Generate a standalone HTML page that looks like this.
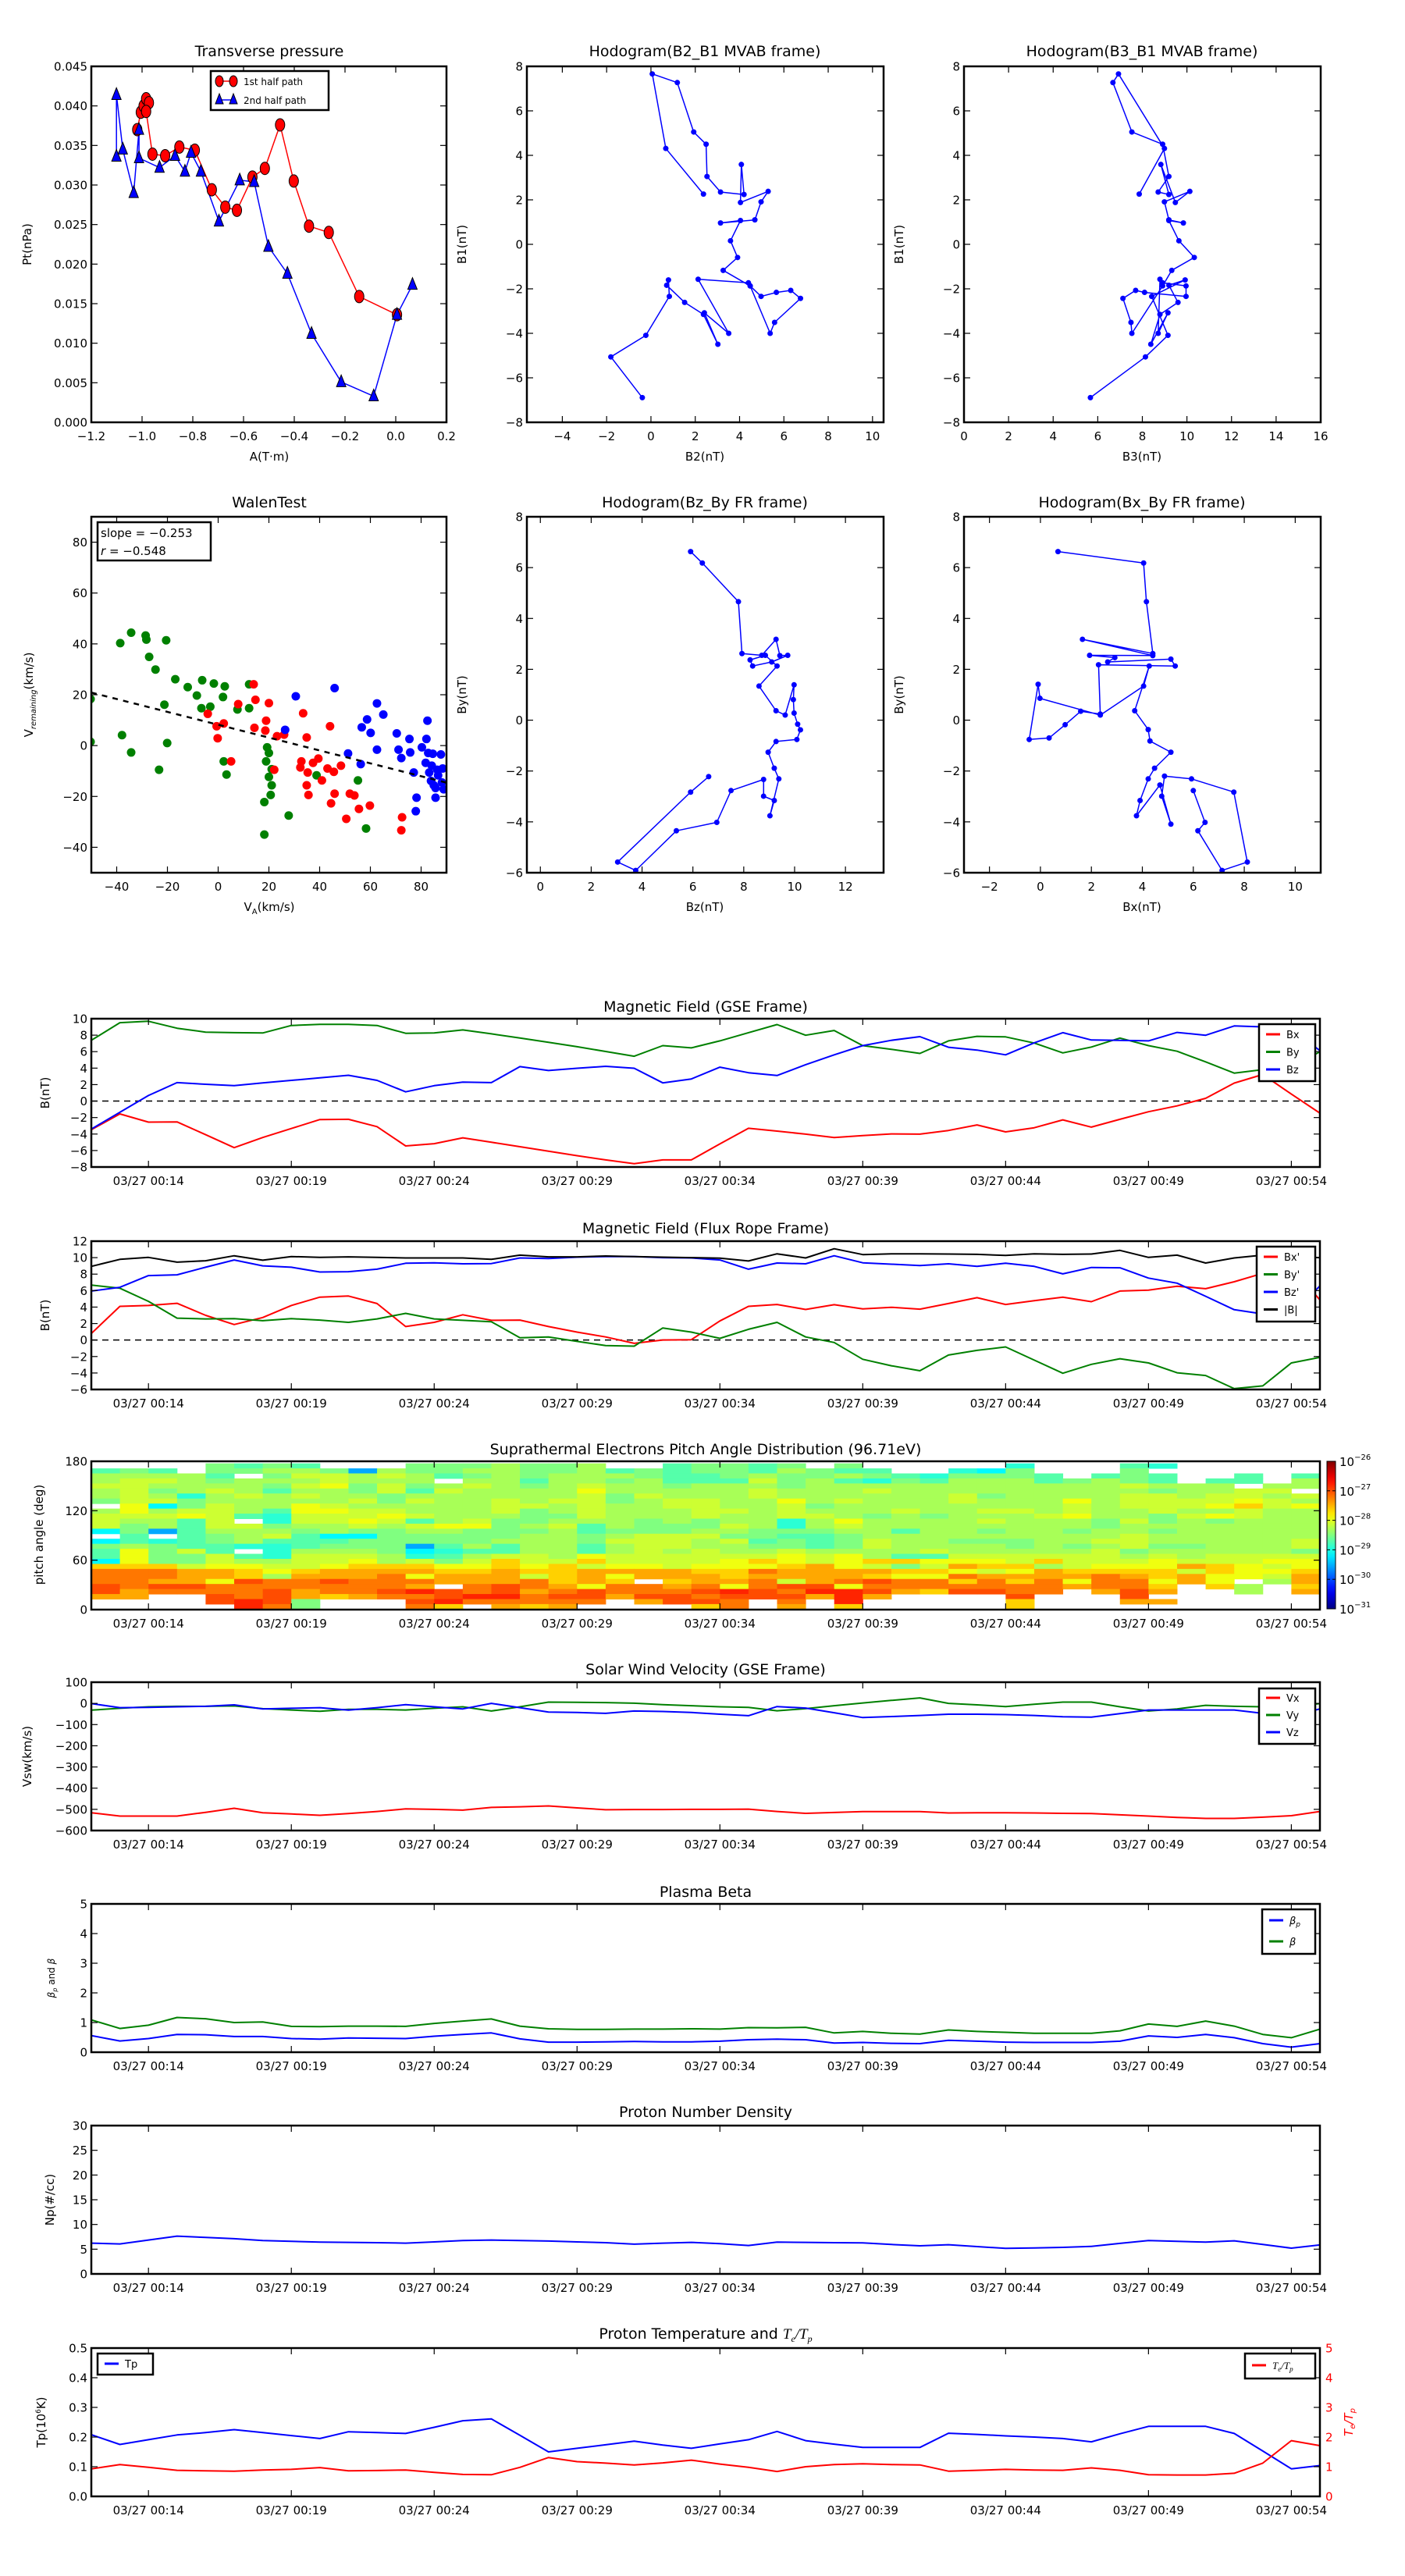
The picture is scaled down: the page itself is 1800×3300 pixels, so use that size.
<!DOCTYPE html>
<html><head><meta charset="utf-8"><style>
html,body{margin:0;padding:0;background:#fff;}
svg{display:block;font-family:"DejaVu Sans","Liberation Sans",sans-serif;}
</style></head><body>
<svg id="fig" xmlns="http://www.w3.org/2000/svg" width="1800" height="3300" viewBox="0 0 1800 3300"></svg>
<script>
// ---------- data: transverse pressure ----------
const tpA1=[-1.019,-1.005,-0.994,-0.984,-0.973,-0.984,-0.959,-0.909,-0.853,-0.792,-0.725,-0.672,-0.626,-0.565,-0.516,-0.456,-0.402,-0.342,-0.264,-0.144,0.005];
const tpP1=[0.0370,0.0392,0.0400,0.0409,0.0404,0.0393,0.0339,0.0337,0.0348,0.0344,0.0294,0.0272,0.0268,0.0310,0.0321,0.0376,0.0305,0.0248,0.0240,0.0159,0.0136];
const tpA2=[-1.101,-1.101,-1.076,-1.033,-1.012,-1.012,-0.931,-0.870,-0.831,-0.807,-0.768,-0.697,-0.615,-0.558,-0.502,-0.427,-0.332,-0.215,-0.087,0.005,0.066];
const tpP2=[0.0336,0.0414,0.0345,0.0290,0.0370,0.0334,0.0322,0.0337,0.0317,0.0341,0.0317,0.0254,0.0306,0.0304,0.0222,0.0188,0.0112,0.0051,0.0033,0.0136,0.0174];
// ---------- hodograms MVAB ----------
const hB2=[-0.39,-1.81,-0.23,0.83,0.79,0.71,1.52,2.37,3.02,2.41,3.51,2.13,4.40,4.48,4.97,5.66,6.31,6.75,5.58,5.38,4.48,3.26,3.91,3.59,4.04,3.14,4.69,4.97,5.29,4.04,4.08,4.20,3.14,2.53,2.49,1.93,1.19,0.06,0.67,2.37];
const hB1=[-6.89,-5.06,-4.09,-2.34,-1.60,-1.84,-2.61,-3.15,-4.49,-3.08,-4.0,-1.57,-1.73,-1.87,-2.34,-2.16,-2.07,-2.43,-3.51,-4.0,-1.87,-1.17,-0.59,0.16,1.07,0.96,1.1,1.91,2.38,1.88,3.59,2.24,2.35,3.05,4.50,5.05,7.27,7.66,4.31,2.26];
const hB3=[5.67,8.14,9.15,8.42,9.92,9.19,9.6,8.79,8.38,9.15,8.71,8.79,8.91,9.96,9.96,8.1,7.7,7.13,7.49,7.53,8.91,9.32,10.33,9.64,9.19,9.84,9.19,8.99,10.13,9.48,8.83,9.19,8.71,9.19,8.91,7.53,6.68,6.93,8.99,7.86];
// ---------- hodograms FR ----------
const fBz=[5.91,6.37,7.79,7.93,8.71,9.27,9.42,9.73,9.10,8.35,8.25,8.85,9.31,8.60,9.27,9.63,9.98,9.95,9.98,10.12,10.23,10.09,9.27,8.96,9.20,9.38,9.03,9.20,8.78,8.78,7.50,6.94,5.35,3.75,3.04,5.91,6.62];
const fByZ=[6.63,6.18,4.66,2.62,2.55,3.18,2.54,2.55,2.29,2.13,2.37,2.55,2.13,1.34,0.37,0.20,1.39,0.81,0.28,-0.16,-0.38,-0.76,-0.84,-1.26,-1.89,-2.31,-3.76,-3.16,-2.99,-2.33,-2.77,-4.02,-4.35,-5.91,-5.58,-2.83,-2.22];
const fBx=[0.69,4.05,4.16,4.41,1.65,4.41,1.93,2.92,2.64,5.12,5.29,2.28,2.35,1.58,0.97,0.34,-0.44,-0.09,-0.02,2.35,4.05,4.27,3.70,4.23,4.30,5.12,4.48,4.23,3.91,3.77,4.69,5.12,4.76,4.87,5.93,7.59,8.12,7.13,6.18,6.46,6.0];
const fByX=[6.63,6.18,4.66,2.62,3.18,2.54,2.55,2.46,2.29,2.40,2.13,2.18,0.24,0.35,-0.18,-0.70,-0.76,1.41,0.86,0.20,1.34,2.13,0.37,-0.37,-0.82,-1.26,-1.89,-2.31,-3.16,-3.76,-2.55,-4.09,-2.99,-2.2,-2.31,-2.83,-5.58,-5.91,-4.35,-4.02,-2.77];
// ---------- Walen test ----------
const wGx=[-50.3,-38.6,-34.3,-28.6,-28.3,-20.5,-27.2,-24.7,-16.9,-12.0,-8.4,-6.3,-1.7,2.6,1.9,12.2,-6.6,-3.1,7.6,12.2,-21.2,-37.9,-34.3,-20.1,-23.3,2.2,3.3,19.3,18.9,20.0,21.1,20.0,21.1,20.7,18.2,27.8,18.2,38.8,55.1,58.3,-50.3];
const wGy=[18.3,40.3,44.4,43.3,41.7,41.4,34.9,29.9,26.1,23.0,19.7,25.7,24.4,23.3,19.1,24.1,14.7,15.3,14.2,14.7,16.1,4.1,-2.7,1.0,-9.5,-6.2,-11.4,-0.7,-6.2,-2.9,-9.3,-12.3,-15.6,-19.4,-22.2,-27.5,-35.0,-11.7,-13.7,-32.6,1.5];
const wRx=[-4.1,-0.6,-0.2,2.2,5.1,7.9,14.0,14.7,14.3,18.6,18.9,20.0,23.2,22.1,26.0,33.5,34.9,32.4,32.8,35.3,34.9,35.6,37.4,39.5,40.9,44.1,43.1,45.6,45.9,44.5,48.4,51.9,53.7,55.5,59.8,50.5,72.5,72.2];
const wRy=[12.5,7.6,2.9,8.7,-6.2,16.3,24.1,18.0,7.0,5.9,9.8,16.7,3.7,-9.5,4.3,12.7,3.2,-8.6,-6.2,-10.6,-15.6,-19.4,-6.8,-5.1,-13.7,7.6,-9.0,-10.3,-18.9,-22.7,-7.9,-18.9,-19.6,-24.9,-23.6,-28.8,-28.2,-33.3];
const wBx=[45.9,30.6,26.4,51.2,56.2,56.6,58.7,60.1,62.6,65.1,62.6,70.4,71.1,72.2,75.4,75.7,77.1,78.2,77.9,80.3,82.1,82.5,82.8,81.8,83.2,84.6,85.7,83.9,85.0,86.4,87.8,88.5,88.2,88.9,84.2,85.7,86.7];
const wBy=[22.6,19.4,6.2,-3.1,-7.3,7.2,10.3,5.0,16.6,12.2,-1.6,4.8,-1.6,-4.9,2.6,-2.7,-10.6,-20.5,-25.8,-0.7,2.6,9.8,-2.9,-6.8,-10.6,-3.2,-20.5,-13.9,-15.6,-9.5,-3.5,-9.0,-14.5,-17.2,-7.9,-16.7,-11.7];
const walenSlope=-0.253, walenIntercept=8.2, walenR=-0.548;
// ---------- time series (one sample per minute, 00:12 .. 00:55) ----------
const tStart=12;
const timeTicks=[14,19,24,29,34,39,44,49,54];
const gseBx=[-3.47,-1.56,-2.55,-2.52,-4.08,-5.65,-4.42,-3.33,-2.24,-2.21,-3.10,-5.44,-5.17,-4.46,-5.0,-5.54,-6.09,-6.63,-7.14,-7.59,-7.14,-7.14,-5.2,-3.3,-3.64,-4.01,-4.42,-4.18,-3.98,-4.01,-3.57,-2.89,-3.74,-3.23,-2.28,-3.16,-2.21,-1.29,-0.58,0.34,2.18,3.23,0.85,-1.46];
const gseBy=[7.38,9.52,9.69,8.84,8.37,8.3,8.27,9.18,9.32,9.32,9.18,8.23,8.27,8.64,8.16,7.65,7.14,6.6,6.02,5.44,6.73,6.46,7.31,8.3,9.29,7.99,8.57,6.73,6.29,5.78,7.31,7.86,7.79,7.04,5.85,6.56,7.65,6.73,6.05,4.76,3.4,3.81,4.0,6.0];
const gseBz=[-3.4,-1.36,0.68,2.24,2.04,1.87,2.21,2.52,2.82,3.13,2.52,1.12,1.87,2.31,2.24,4.18,3.71,3.98,4.22,3.98,2.21,2.69,4.12,3.44,3.1,4.42,5.61,6.73,7.38,7.82,6.53,6.19,5.61,7.07,8.3,7.41,7.38,7.31,8.33,7.99,9.12,9.01,8.84,6.12];
const frBx=[0.79,4.09,4.19,4.46,3.0,1.88,2.73,4.19,5.21,5.34,4.43,1.64,2.15,3.07,2.39,2.42,1.64,0.96,0.38,-0.4,0.01,0.04,2.32,4.09,4.32,3.71,4.29,3.78,3.98,3.75,4.43,5.14,4.32,4.77,5.21,4.66,5.95,6.06,6.53,6.23,7.07,8.1,8.9,4.87];
const frBy=[6.67,6.29,4.7,2.66,2.56,2.59,2.35,2.59,2.42,2.15,2.56,3.24,2.56,2.39,2.22,0.28,0.38,-0.16,-0.67,-0.74,1.47,0.96,0.21,1.3,2.15,0.38,-0.3,-2.33,-3.12,-3.73,-1.82,-1.25,-0.84,-2.44,-4.03,-2.95,-2.27,-2.78,-3.97,-4.3,-5.9,-5.56,-2.78,-2.1];
const frBz=[5.95,6.4,7.82,7.92,8.84,9.72,9.01,8.84,8.26,8.3,8.6,9.32,9.38,9.25,9.28,9.96,9.89,10.06,10.13,10.13,10.0,9.96,9.72,8.6,9.35,9.25,10.23,9.38,9.21,9.04,9.25,8.94,9.32,8.94,8.03,8.81,8.77,7.52,6.9,5.31,3.68,3.17,3.0,6.57];
const frBt=[8.94,9.79,10.03,9.45,9.62,10.23,9.69,10.13,10.03,10.1,10.03,9.96,9.96,9.96,9.79,10.3,10.1,10.1,10.2,10.13,10.06,10.0,9.93,9.59,10.47,9.96,11.08,10.37,10.47,10.47,10.44,10.4,10.27,10.47,10.4,10.44,10.88,10.03,10.3,9.35,9.96,10.3,10.13,10.0];
const vx=[-516,-532,-532,-532,-514,-495,-516,-522,-528,-520,-510,-498,-500,-504,-491,-488,-484,-493,-502,-501,-501,-500,-500,-499,-510,-519,-515,-511,-511,-511,-517,-516,-516,-517,-519,-520,-526,-532,-538,-543,-543,-537,-530,-510];
const vy=[-32,-23,-16,-14,-14,-12,-25,-31,-37,-28,-28,-31,-23,-16,-36,-16,6,5,4,1,-6,-11,-16,-19,-35,-25,-11,2,14,26,0,-7,-15,-4,6,6,-16,-36,-26,-9,-14,-16,-16,-1];
const vz=[-1,-20,-19,-16,-14,-7,-26,-23,-20,-32,-20,-6,-16,-26,0,-20,-41,-43,-47,-36,-38,-43,-51,-58,-15,-22,-44,-67,-62,-57,-51,-51,-53,-57,-63,-65,-48,-31,-31,-31,-31,-47,-59,-26];
const betaP=[0.56,0.38,0.46,0.60,0.59,0.53,0.53,0.46,0.44,0.48,0.47,0.46,0.54,0.60,0.65,0.45,0.34,0.34,0.35,0.36,0.35,0.35,0.37,0.42,0.44,0.42,0.31,0.33,0.30,0.29,0.40,0.37,0.34,0.33,0.33,0.33,0.37,0.55,0.50,0.60,0.49,0.29,0.17,0.29];
const betaT=[1.09,0.80,0.91,1.17,1.13,1.00,1.02,0.87,0.86,0.88,0.88,0.87,0.97,1.05,1.12,0.88,0.79,0.77,0.77,0.78,0.78,0.79,0.78,0.83,0.82,0.84,0.65,0.70,0.64,0.61,0.75,0.70,0.67,0.64,0.64,0.64,0.72,0.95,0.87,1.05,0.88,0.60,0.49,0.78];
const np=[6.22,6.06,6.85,7.65,7.38,7.12,6.75,6.59,6.43,6.38,6.32,6.22,6.48,6.75,6.85,6.75,6.64,6.48,6.32,6.01,6.22,6.38,6.11,5.74,6.43,6.38,6.32,6.27,5.95,5.69,5.90,5.53,5.16,5.26,5.37,5.58,6.17,6.75,6.59,6.43,6.69,5.95,5.21,5.85];
const tp=[0.208,0.175,0.191,0.207,0.215,0.225,0.215,0.205,0.195,0.218,0.215,0.212,0.233,0.255,0.261,0.206,0.150,0.162,0.174,0.186,0.173,0.162,0.177,0.191,0.219,0.188,0.176,0.165,0.165,0.165,0.213,0.209,0.204,0.200,0.195,0.184,0.211,0.236,0.236,0.236,0.212,0.153,0.093,0.104];
const teTp=[0.93,1.07,0.98,0.88,0.86,0.85,0.89,0.91,0.97,0.86,0.87,0.89,0.81,0.74,0.73,0.98,1.31,1.17,1.12,1.06,1.13,1.22,1.09,0.98,0.84,1.00,1.07,1.10,1.07,1.06,0.85,0.88,0.91,0.89,0.88,0.96,0.88,0.73,0.72,0.72,0.78,1.12,1.88,1.71];
// ---------- PAD: rows from 180deg down, 43 one-minute columns; codes -> log10 flux ----------
const padCodes={b:-29.55,c:-29.15,C:-28.92,g:-28.71,G:-28.5,l:-28.3,L:-28.12,y:-27.95,Y:-27.65,o:-27.45,O:-27.21,r:-27.0,R:-26.8};
const padTopDeg=177.5, padBinDeg=6.1;
const padRows=[
"....GgGg...GGGlGGl..gGGgG.G.....C...gC.....",
"gGg.GGllGblGGllGGlgGgGGglGgg..CcG...G......",
"llllg.GLLlLlgGlGlllGggGlGGlGgCGGGg.gGg..g.g",
"lLLlGlllLlll.llgllGlgggLGlgCGglllgGlGg.gg.l",
"LLllllGLyGLGlLlGlLllGlllGlllllllllllLlll.ll",
"lLGlLlgllGLgLllllylllllLlllLlllllllllGllLL",
"lLlClLlLllGllllllLGLlllLllllllLGllllLLlLLlL",
"GLLGlllllLGLllLlLLGlLLllylLlllLlllylLLLLyLl",
".ycGLllyLlllllLLlLllLLllLGllllllllLlLLLyYLy",
"lylLLlgyyLLlllLGlLlllLLlLlllLllLLlLllLllLll",
"LLLyLgCLLLyLlllGGLlllLllLLlGlGlllLyllGLyLll",
"LllgL.CLLyLglLGGlllGlGllClyllllLlllGLGlGlll",
"LGlgLLGllLlLyyGlLglGGGLlClLllllllllGlllllll",
"cGbglllGlGGllGGGlgGGGllGGGllgllGllGllGlllll",
".g.gGlLgccGGGGGllGlLLLGGggGlllllllllLllllll",
"cgCgGlgggGGGGGlllGLLLlLgGgGLllGGGllLLlllllL",
"GlGggCCgGGGbglgllglLLllGGgGLllllGlGlLGGlllL",
"gyGLg.ClllGcCggllglLlLllLllllLlllllLGlllllG",
"gyGGLgCLLLlCglLLlyLLLLLLyLylggLLLLLLlLlLLLL",
"cyGGLllLLylLGLYLLYLLLLyYyLyYYyyyLYLLLyLLLyy",
"YYYLyyLLyYYYyyYyYLyyLyyyYoyLGLoYYlLyyyoYyLy",
"OOOooYyYooooYYoYYooooYYOooooYYyLyoYYYYLYyyY",
"OOOooYloooOyoooLYoyoooYooooYyyOooooOoYoyyLo",
"OOooyrOOrOOOoooOYoY.YooOLoOrOOYOYOyOOyoy.lo",
"rOrrOOOOOOOo.OrOoyOOoOyOrryOOOOOOOoOOY.Yl.Y",
"roOOOOroOOrRrOroOrOOOrRrORRroYrrOO.oro..l.o",
"oo..rOroYoOOrRROrrorrOrrroRo....r...r......",
"....rRrG...rROOOOO.orrO.O.R.....Y...oo.....",
".....ROG...OY.oYo....YO.o.Y.....Y.........."];
const cbarExps=[-31,-30,-29,-28,-27,-26];

// ---------- helpers ----------
const NS='http://www.w3.org/2000/svg';
const svg=document.getElementById('fig');
function mk(tag,attrs,parent){const e=document.createElementNS(NS,tag);for(const k in attrs)e.setAttribute(k,attrs[k]);(parent||svg).appendChild(e);return e;}
function fmt(v,d){const s=v.toFixed(d);return s.replace('-','\u2212');}
function jet(x){const f=v=>Math.round(255*Math.max(0,Math.min(1,1.5-Math.abs(4*x-v))));return 'rgb('+f(3)+','+f(2)+','+f(1)+')';}
let clipN=0;
function axes(name,x,y,w,h,xd,yd){
  const g=mk('g',{});
  
  
  const id='clip'+(clipN++);
  const cp=mk('clipPath',{id:id},g);mk('rect',{x:x,y:y,width:w,height:h},cp);
  const plot=mk('g',{'clip-path':'url(#'+id+')'},g);
  const sx=v=>x+(v-xd[0])/(xd[1]-xd[0])*w;
  const sy=v=>y+h-(v-yd[0])/(yd[1]-yd[0])*h;
  return {g,plot,sx,sy,x,y,w,h};
}
function frame(a){const r=mk('rect',{x:a.x,y:a.y,width:a.w,height:a.h,fill:'none',stroke:'#000','stroke-width':2.5},a.g);
  
  }
function xticks(a,vals,labels,name){
  vals.forEach((v,i)=>{const X=a.sx(v);
    mk('line',{x1:X,x2:X,y1:a.y+a.h,y2:a.y+a.h-8,stroke:'#000','stroke-width':1.2},a.g);
    mk('line',{x1:X,x2:X,y1:a.y,y2:a.y+8,stroke:'#000','stroke-width':1.2},a.g);
    const t=mk('text',{x:X,y:a.y+a.h+23,'text-anchor':'middle','font-size':15},a.g);
    
    
    t.textContent=labels[i];});
}
function yticks(a,vals,labels,name,opt){
  opt=opt||{};
  vals.forEach((v,i)=>{const Y=a.sy(v);
    mk('line',{x1:a.x,x2:a.x+8,y1:Y,y2:Y,stroke:'#000','stroke-width':1.2},a.g);
    if(!opt.noRightTick)mk('line',{x1:a.x+a.w,x2:a.x+a.w-8,y1:Y,y2:Y,stroke:'#000','stroke-width':1.2},a.g);
    const t=mk('text',{x:a.x-5,y:Y+5.5,'text-anchor':'end','font-size':15},a.g);
    
    
    t.textContent=labels[i];});
}
function range(a,b,s){const r=[];for(let v=a;v<=b+1e-9;v+=s)r.push(+v.toFixed(6));return r;}
function title(txt,x,y,name){const t=mk('text',{x:x,y:y,'text-anchor':'middle','font-size':19});
  
  
  t.textContent=txt;return t;}
function xlabel(txt,x,y,name){const t=mk('text',{x:x,y:y,'text-anchor':'middle','font-size':15});
  
  
  t.textContent=txt;return t;}
function ylabel(txt,x,y,name,col){const t=mk('text',{x:x,y:y,'text-anchor':'middle','font-size':15,fill:col||'#000',transform:'rotate(-90 '+x+' '+y+')'});
  
  
  t.textContent=txt;return t;}
function line(a,xs,ys,col,name,w){
  const d=xs.map((v,i)=>(i?'L':'M')+a.sx(v).toFixed(1)+' '+a.sy(ys[i]).toFixed(1)).join('');
  const p=mk('path',{d:d,fill:'none',stroke:col,'stroke-width':w||2,'stroke-linejoin':'round'},a.plot);
  
  
  return p;}
function dots(a,xs,ys,col,r,name){
  xs.forEach((v,i)=>{const c=mk('circle',{cx:a.sx(v),cy:a.sy(ys[i]),r:r,fill:col},a.plot);
    
    });}
function hline0(a){mk('line',{x1:a.x,x2:a.x+a.w,y1:a.sy(0),y2:a.sy(0),stroke:'#000','stroke-width':1.5,'stroke-dasharray':'8 6'},a.plot);}
function legend(x,y,w,h,entries,name,rowH,first){
  const g=mk('g',{});
  
  
  mk('rect',{x:x,y:y,width:w,height:h,fill:'#fff',stroke:'#000','stroke-width':2.5},g);
  entries.forEach((e,i)=>{const Y=y+first+i*rowH;
    mk('line',{x1:x+9,x2:x+27,y1:Y,y2:Y,stroke:e[1],'stroke-width':3},g);
    const t=mk('text',{x:x+35,y:Y+5,'font-size':13,'font-style':e[2]?'italic':'normal'},g);
    
    
    t.textContent=e[0];});
  return g;}

// ================= Row 1 =================
(function(){
  const a=axes('transverse-pressure-plot',117,85,455,456,[-1.2,0.2],[0,0.045]);
  line(a,tpA1,tpP1,'#f00','first-half-path-line',1.5);
  line(a,tpA2,tpP2,'#00f','second-half-path-line',1.5);
  tpA1.forEach((v,i)=>{const c=mk('ellipse',{cx:a.sx(v),cy:a.sy(tpP1[i]),rx:6,ry:8,fill:'#f00',stroke:'#000','stroke-width':1},a.plot);
    
    });
  tpA2.forEach((v,i)=>{const X=a.sx(v),Y=a.sy(tpP2[i]);const p=mk('polygon',{points:(X)+','+(Y-9)+' '+(X-6)+','+(Y+6)+' '+(X+6)+','+(Y+6),fill:'#00f',stroke:'#000','stroke-width':1},a.plot);
    
    });
  frame(a);
  const xv=range(-1.2,0.2,0.2);xticks(a,xv,xv.map(v=>fmt(v,1)),'x-tick-label');
  const yv=range(0,0.045,0.005);yticks(a,yv,yv.map(v=>fmt(v,3)),'y-tick-label');
  title('Transverse pressure',345,72,'transverse-pressure-title');
  xlabel('A(T\u00b7m)',345,590,'x-axis-title');ylabel('Pt(nPa)',40,313,'y-axis-title');
  const g=mk('g',{});
  
  
  mk('rect',{x:270,y:91,width:151,height:50,fill:'#fff',stroke:'#000','stroke-width':2.5},g);
  mk('line',{x1:278,x2:302,y1:104,y2:104,stroke:'#f00','stroke-width':1.5},g);
  mk('ellipse',{cx:281,cy:104,rx:5,ry:7,fill:'#f00',stroke:'#000'},g);mk('ellipse',{cx:299,cy:104,rx:5,ry:7,fill:'#f00',stroke:'#000'},g);
  mk('line',{x1:278,x2:302,y1:128,y2:128,stroke:'#00f','stroke-width':1.5},g);
  mk('polygon',{points:'281,120 276,133 286,133',fill:'#00f',stroke:'#000'},g);mk('polygon',{points:'299,120 294,133 304,133',fill:'#00f',stroke:'#000'},g);
  const t1=mk('text',{x:312,y:109,'font-size':12},g);t1.textContent='1st half path';
  const t2=mk('text',{x:312,y:133,'font-size':12},g);t2.textContent='2nd half path';
})();
function hodo(name,x,y,xd,yd,xs,ys,xt,yt,tt,xl,yl){
  const a=axes(name,x,y,457,456,xd,yd);
  line(a,xs,ys,'#00f',name+'-path',1.5);dots(a,xs,ys,'#00f',3.5,name+'-point');
  frame(a);
  xticks(a,xt,xt.map(v=>fmt(v,0)),'x-tick-label');yticks(a,yt,yt.map(v=>fmt(v,0)),'y-tick-label');
  title(tt,x+228,y-13,name+'-title');xlabel(xl,x+228,y+505,'x-axis-title');ylabel(yl,x-78,y+228,'y-axis-title');
}
hodo('hodogram-b2-b1',675,85,[-5.6,10.5],[-8,8],hB2,hB1,range(-4,10,2),range(-8,8,2),'Hodogram(B2_B1 MVAB frame)','B2(nT)','B1(nT)');
hodo('hodogram-b3-b1',1235,85,[0,16],[-8,8],hB3,hB1,range(0,16,2),range(-8,8,2),'Hodogram(B3_B1 MVAB frame)','B3(nT)','B1(nT)');
// ================= Row 2 =================
(function(){
  const a=axes('walen-test-plot',117,662,455,456,[-50,90],[-50,90]);
  dots(a,wGx,wGy,'#008000',5.5,'walen-point-green');
  dots(a,wRx,wRy,'#f00',5.5,'walen-point-red');
  dots(a,wBx,wBy,'#00f',5.5,'walen-point-blue');
  const fl=mk('line',{x1:a.sx(-50),y1:a.sy(walenIntercept+walenSlope*-50),x2:a.sx(90),y2:a.sy(walenIntercept+walenSlope*90),stroke:'#000','stroke-width':2.5,'stroke-dasharray':'7 7'},a.plot);
  
  
  frame(a);
  xticks(a,range(-40,80,20),range(-40,80,20).map(v=>fmt(v,0)),'x-tick-label');
  yticks(a,range(-40,80,20),range(-40,80,20).map(v=>fmt(v,0)),'y-tick-label');
  title('WalenTest',345,650,'walen-title');
  const xl=xlabel('',345,1167,'x-axis-title');xl.innerHTML='V<tspan font-size="10" dy="4">A</tspan><tspan dy="-4">(km/s)</tspan>';
  const yl=ylabel('',42,890,'y-axis-title');yl.innerHTML='V<tspan font-size="10" dy="4" font-style="italic">remaining</tspan><tspan dy="-4">(km/s)</tspan>';
  const g=mk('g',{});
  
  
  mk('rect',{x:125,y:669,width:145,height:49,fill:'#fff',stroke:'#000','stroke-width':2.5},g);
  const t1=mk('text',{x:129,y:688,'font-size':15},g);t1.textContent='slope = '+fmt(walenSlope,3);
  const t2=mk('text',{x:129,y:711,'font-size':15},g);t2.innerHTML='<tspan font-style="italic">r</tspan> = '+fmt(walenR,3);
})();
function hodo2(name,x,y,xd,xs,ys,xt,tt,xl){
  const a=axes(name,x,y,457,456,xd,[-6,8]);
  line(a,xs,ys,'#00f',name+'-path',1.5);dots(a,xs,ys,'#00f',3.5,name+'-point');
  frame(a);
  xticks(a,xt,xt.map(v=>fmt(v,0)),'x-tick-label');yticks(a,range(-6,8,2),range(-6,8,2).map(v=>fmt(v,0)),'y-tick-label');
  title(tt,x+228,650,name+'-title');xlabel(xl,x+228,1167,'x-axis-title');ylabel('By(nT)',x-78,y+228,'y-axis-title');
}
hodo2('hodogram-bz-by',675,662,[-0.53,13.5],fBz,fByZ,range(0,12,2),'Hodogram(Bz_By FR frame)','Bz(nT)');
hodo2('hodogram-bx-by',1235,662,[-3,11],fBx,fByX,range(-2,10,2),'Hodogram(Bx_By FR frame)','Bx(nT)');
// ================= Time series =================
const T=gseBx.map((v,i)=>tStart+i);
const tLabels=timeTicks.map(m=>'03/27 00:'+String(m).padStart(2,'0'));
function tsAxes(name,y,yd){return axes(name,117,y,1574,190,[12,55],yd);}
function tsFinish(a,yv,yl,dec){frame(a);xticks(a,timeTicks,tLabels,'time-tick-label');yticks(a,yv,yv.map(v=>fmt(v,dec||0)),'y-tick-label');}
// GSE
(function(){const a=tsAxes('gse-field-plot',1305,[-8,10]);
  hline0(a);line(a,T,gseBx,'#f00','bx-line');line(a,T,gseBy,'#008000','by-line');line(a,T,gseBz,'#00f','bz-line');
  tsFinish(a,range(-8,10,2));title('Magnetic Field (GSE Frame)',904,1296,'gse-title');ylabel('B(nT)',63,1400,'y-axis-title');
  legend(1613,1312,72,73,[['Bx','#f00'],['By','#008000'],['Bz','#00f']],'gse-legend',22.5,13);})();
// FR
(function(){const a=tsAxes('flux-rope-field-plot',1590,[-6,12]);
  hline0(a);line(a,T,frBx,'#f00','bx-prime-line');line(a,T,frBy,'#008000','by-prime-line');line(a,T,frBz,'#00f','bz-prime-line');line(a,T,frBt,'#000','b-total-line');
  tsFinish(a,range(-6,12,2));title('Magnetic Field (Flux Rope Frame)',904,1580,'flux-rope-title');ylabel('B(nT)',63,1685,'y-axis-title');
  legend(1610,1597,75,96,[["Bx'",'#f00'],["By'",'#008000'],["Bz'",'#00f'],['|B|','#000']],'flux-rope-legend',22.5,13);})();
// PAD
(function(){const a=tsAxes('pitch-angle-heatmap',1872,[0,180]);
  padRows.forEach((row,r)=>{for(let c=0;c<row.length;c++){const ch=row[c];if(!(ch in padCodes))continue;
    const v=padCodes[ch];const x0=a.sx(tStart+c),x1=a.sx(tStart+c+1);
    const yA=a.sy(padTopDeg-r*padBinDeg),yB=a.sy(padTopDeg-(r+1)*padBinDeg);
    const rc=mk('rect',{x:x0,y:yA,width:x1-x0+0.5,height:yB-yA+0.5,fill:jet((v+31)/5)},a.plot);
    
    }});
  tsFinish(a,[0,60,120,180]);title('Suprathermal Electrons Pitch Angle Distribution (96.71eV)',904,1863,'pad-title');ylabel('pitch angle (deg)',55,1966,'y-axis-title');
  const defs=mk('defs',{});const gr=mk('linearGradient',{id:'jetg',x1:0,y1:1,x2:0,y2:0},defs);
  for(let i=0;i<=20;i++)mk('stop',{offset:i/20,'stop-color':jet(i/20)},gr);
  const cb=mk('rect',{x:1700,y:1872,width:11,height:189,fill:'url(#jetg)',stroke:'#000','stroke-width':1});
  
  
  cbarExps.forEach(e=>{const Y=1872+189*(-26-e)/5;
    mk('line',{x1:1700,x2:1704,y1:Y,y2:Y,stroke:'#000'});mk('line',{x1:1707,x2:1711,y1:Y,y2:Y,stroke:'#000'});
    const t=mk('text',{x:1716,y:Y+6,'font-size':15});
    
    
    t.innerHTML='10<tspan font-size="10" dy="-8">'+String(e).replace('-','\u2212')+'</tspan>';});})();
// Velocity
(function(){const a=tsAxes('solar-wind-velocity-plot',2155,[-600,100]);
  line(a,T,vx,'#f00','vx-line');line(a,T,vy,'#008000','vy-line');line(a,T,vz,'#00f','vz-line');
  tsFinish(a,range(-600,100,100));title('Solar Wind Velocity (GSE Frame)',904,2145,'velocity-title');ylabel('Vsw(km/s)',40,2250,'y-axis-title');
  legend(1613,2163,72,71,[['Vx','#f00'],['Vy','#008000'],['Vz','#00f']],'velocity-legend',22,12);})();
// Beta
(function(){const a=tsAxes('plasma-beta-plot',2439,[0,5]);
  line(a,T,betaP,'#00f','beta-p-line');line(a,T,betaT,'#008000','beta-line');
  tsFinish(a,range(0,5,1));title('Plasma Beta',904,2430,'beta-title');
  const yl=ylabel('',70,2534,'y-axis-title');yl.setAttribute('font-size','12');yl.innerHTML='<tspan font-style="italic">\u03b2</tspan><tspan font-size="8" dy="3" font-style="italic">p</tspan><tspan dy="-3"> and </tspan><tspan font-style="italic">\u03b2</tspan>';
  const g=legend(1617,2446,68,57,[['',"#00f"],['','#008000']],'beta-legend',27,14);
  const t1=mk('text',{x:1652,y:2465,'font-size':13,'font-style':'italic'},g);t1.innerHTML='\u03b2<tspan font-size="9" dy="3">p</tspan>';
  const t2=mk('text',{x:1652,y:2492,'font-size':13,'font-style':'italic'},g);t2.textContent='\u03b2';})();
// Density
(function(){const a=tsAxes('proton-density-plot',2723,[0,30]);
  line(a,T,np,'#00f','density-line');
  tsFinish(a,range(0,30,5));title('Proton Number Density',904,2712,'density-title');ylabel('Np(#/cc)',69,2818,'y-axis-title');})();
// Temperature
(function(){const a=tsAxes('proton-temperature-plot',3008,[0,0.5]);
  const a2={g:a.g,plot:a.plot,sx:a.sx,sy:v=>a.y+a.h-v/5*a.h};
  line(a,T,tp,'#00f','tp-line');line(a2,T,teTp,'#f00','te-tp-line');
  frame(a);xticks(a,timeTicks,tLabels,'time-tick-label');
  const yv=range(0,0.5,0.1);yticks(a,yv,yv.map(v=>fmt(v,1)),'y-tick-label',{noRightTick:true});
  range(0,5,1).forEach(v=>{const Y=a2.sy(v);mk('line',{x1:a.x+a.w,x2:a.x+a.w-8,y1:Y,y2:Y,stroke:'#000','stroke-width':1.2},a.g);
    const t=mk('text',{x:a.x+a.w+7,y:Y+5.5,'font-size':15,fill:'#f00'},a.g);
    
    
    t.textContent=String(v);});
  const tt=title('',904,2996,'temperature-title');tt.innerHTML='Proton Temperature and <tspan font-style="italic" font-family="Liberation Serif">T<tspan font-size="12" dy="4">e</tspan><tspan dy="-4">/T</tspan><tspan font-size="12" dy="4">p</tspan></tspan>';
  const yl=ylabel('',58,3103,'y-axis-title');yl.innerHTML='Tp(10<tspan font-size="9" dy="-6">6</tspan><tspan dy="6">K)</tspan>';
  const yr=ylabel('',1733,3103,'right-y-axis-title','#f00');yr.innerHTML='<tspan font-style="italic">T<tspan font-size="10" dy="3">e</tspan><tspan dy="-3">/T</tspan><tspan font-size="10" dy="3">p</tspan></tspan>';
  legend(125,3015,71,27,[['Tp','#00f']],'tp-legend',0,13);
  const g=legend(1595,3015,90,32,[['','#f00']],'te-tp-legend',0,15);
  const t=mk('text',{x:1630,y:3035,'font-size':13,'font-style':'italic','font-family':'Liberation Serif'},g);t.innerHTML='T<tspan font-size="9" dy="3">e</tspan><tspan dy="-3">/T</tspan><tspan font-size="9" dy="3">p</tspan>';})();
</script>
</body></html>
